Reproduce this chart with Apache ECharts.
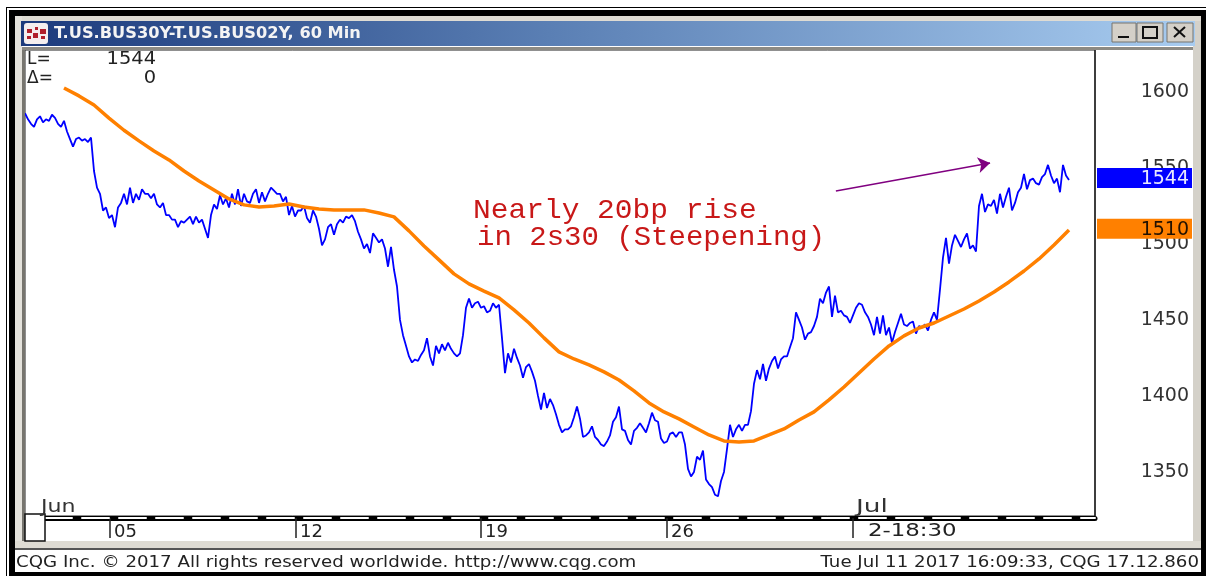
<!DOCTYPE html>
<html>
<head>
<meta charset="utf-8">
<title>T.US.BUS30Y-T.US.BUS02Y</title>
<script src="https://cdn.jsdelivr.net/npm/echarts@6/dist/echarts.min.js"></script>
<style>
  html, body { margin: 0; padding: 0; background: #fff; }
  #main { width: 1206px; height: 576px; }
</style>
</head>
<body>
<div id="main"></div>
<script>
// spread in bp, one reading per bar slot
var spread = [
  1586,1582,1579,1577,1582,1584,1580,1582,1581,1585,
  1583,1579,1577,1581,1574,1569,1564,1569,1570,1568,
  1569,1567,1570,1548,1537,1533,1522,1524,1517,1519,
  1511,1524,1527,1533,1526,1537,1527,1533,1529,1536,
  1533,1533,1530,1533,1526,1524,1527,1519,1519,1516,
  1516,1511,1515,1514,1516,1518,1513,1518,1514,1516,
  1510,1504,1519,1526,1523,1532,1526,1530,1524,1533,
  1526,1536,1525,1533,1528,1527,1533,1536,1527,1534,
  1528,1533,1537,1535,1533,1533,1528,1531,1519,1525,
  1518,1522,1522,1525,1517,1514,1522,1518,1510,1499,
  1503,1511,1513,1506,1513,1516,1514,1518,1517,1519,
  1515,1508,1503,1497,1500,1494,1507,1504,1501,1503,
  1497,1485,1498,1483,1472,1450,1440,1433,1426,1422,
  1424,1423,1427,1430,1438,1426,1420,1433,1428,1434,
  1430,1435,1431,1428,1426,1428,1440,1458,1464,1458,
  1461,1462,1458,1459,1455,1456,1461,1458,1460,1438,
  1415,1428,1422,1431,1425,1420,1412,1419,1421,1416,
  1410,1400,1391,1402,1392,1398,1394,1388,1381,1376,
  1378,1378,1380,1386,1393,1385,1373,1374,1376,1380,
  1373,1371,1368,1367,1370,1374,1383,1386,1393,1378,
  1377,1371,1368,1377,1379,1382,1379,1376,1382,1389,
  1384,1383,1372,1369,1370,1375,1376,1373,1376,1376,
  1368,1352,1347,1350,1360,1358,1364,1345,1342,1340,
  1335,1334,1344,1350,1365,1381,1373,1378,1381,1377,
  1381,1381,1390,1408,1417,1411,1421,1410,1418,1423,
  1426,1418,1424,1426,1426,1432,1438,1455,1450,1445,
  1437,1441,1442,1446,1452,1464,1461,1468,1472,1452,
  1466,1455,1456,1453,1452,1448,1453,1458,1461,1460,
  1455,1452,1447,1440,1452,1441,1453,1440,1445,1435,
  1442,1448,1454,1447,1446,1448,1449,1441,1446,1445,
  1447,1443,1450,1455,1450,1470,1491,1504,1487,1499,
  1506,1502,1498,1503,1507,1497,1499,1495,1525,1533,
  1521,1526,1525,1529,1520,1533,1524,1531,1537,1522,
  1527,1534,1537,1546,1536,1542,1543,1540,1539,1544,
  1546,1552,1545,1540,1543,1534,1552,1545,1542
];
// moving average, read every 5th slot from slot 13
var maStart = 13;
var maStep = 5;
var movingAvg = [
  1602.6,1597.4,1591.4,1582.8,1574.8,1567.8,1561.2,1555.3,1548,1541.4,
  1535.5,1529.6,1525.7,1524.3,1525,1526.3,1524.3,1523,1522.4,1522.4,
  1522.4,1520.4,1517.8,1508.6,1498.7,1489.5,1480.3,1473.7,1469,1464.5,
  1456.6,1448,1438.2,1429,1424.3,1420.4,1415.8,1410.5,1403.3,1395.4,
  1389.5,1384.9,1379.6,1374.3,1370.4,1369.7,1370.4,1374.3,1378.3,1384.2,
  1389.5,1397.4,1405.9,1415.1,1424.3,1432.9,1439.5,1444.7,1448,1452.6,
  1457.2,1462.5,1468.4,1475,1482.2,1490.1,1499.3,1509.2
];
var priceTicks = [1350, 1400, 1450, 1500, 1550, 1600];
var dateTickSlots = [28.33, 90.33, 152, 214, 276];
var dateTickLabels = ['05', '12', '19', '26', '2-18:30'];
var lastSpread = 1544;
var lastAvg = 1510;
var arrowFrom = [270.3, 1534.9];
var arrowTo = [321.7, 1553.3];

var chart = echarts.init(document.getElementById('main'));
var sans = 'DejaVu Sans';

function rect(x, y, w, h, fill, stroke) {
  var el = { type: 'rect', z: 10, shape: { x: x, y: y, width: w, height: h }, style: { fill: fill }, silent: true };
  if (stroke) { el.style.stroke = stroke; el.style.lineWidth = 1; }
  return el;
}
function label(x, y, text, font, fill, align, scaleX) {
  return {
    type: 'text', x: x, y: y + 1.5, scaleX: scaleX || 1, silent: true, z: 20,
    style: { text: text, font: font, fill: fill, align: align || 'left', verticalAlign: 'middle' }
  };
}

var option = {
  animation: false,
  backgroundColor: '#fff',
  grid: { left: 25, right: 111, top: 50, bottom: 60, show: true, borderColor: '#222', borderWidth: 1, backgroundColor: '#fff' },
  xAxis: [{
    type: 'value', min: 0, max: 356.67, position: 'bottom', offset: 2, z: 2,
    splitLine: { show: false },
    axisLine: { show: true, onZero: false, lineStyle: { color: '#000', width: 5 } },
    axisTick: { show: true, customValues: dateTickSlots, length: 20, lineStyle: { color: '#222', width: 1.5 } },
    axisLabel: {
      show: true, customValues: dateTickSlots, margin: 5, align: 'left',
      padding: [0, 0, 0, 4], color: '#222', fontFamily: sans, fontSize: 18,
      // the long label is stretched separately below
      formatter: function (v) { var i = dateTickSlots.indexOf(v); return i < 4 ? dateTickLabels[i] : ''; }
    }
  }, {
    type: 'value', min: 0, max: 356.67, position: 'bottom', offset: 2, z: 3,
    splitLine: { show: false }, axisTick: { show: false }, axisLabel: { show: false },
    axisLine: { show: true, onZero: false, lineStyle: { color: '#fff', width: 2, type: [27, 10], dashOffset: 17 } }
  }],
  yAxis: {
    type: 'value', min: 1321, max: 1627.6, position: 'right', scale: true,
    splitLine: { show: false },
    axisLine: { show: true, onZero: false, lineStyle: { color: '#222', width: 1.5 } },
    axisTick: { show: false },
    axisLabel: {
      show: true, customValues: priceTicks, margin: 94, align: 'right',
      padding: [5, 0, 0, 0], color: '#333', fontFamily: sans, fontSize: 19,
      formatter: function (v) { return String(v); }
    }
  },
  series: [{
    name: 'spread', type: 'line', showSymbol: false, symbol: 'none', z: 3,
    lineStyle: { color: '#0000ff', width: 1.8 },
    data: spread.map(function (v, i) { return [i, v]; }),
    markLine: {
      silent: true, animation: false, symbol: ['none', 'arrow'], symbolSize: 12,
      label: { show: false },
      lineStyle: { color: '#800080', width: 1.5, type: 'solid' },
      data: [[{ coord: arrowFrom }, { coord: arrowTo }]]
    }
  }, {
    name: 'average', type: 'line', showSymbol: false, symbol: 'none', z: 4,
    lineStyle: { color: '#ff8000', width: 3.5 },
    data: movingAvg.map(function (v, i) { return [maStart + i * maStep, v]; })
  }]
};
chart.setOption(option);

// window furniture around the plot
var gfx = [
  rect(6, 7, 1200, 1, '#000'),
  rect(6, 7, 1, 569, '#000'),
  rect(9, 10, 1197, 6, '#000'),
  rect(9, 10, 6, 566, '#000'),
  rect(1201, 10, 5, 566, '#000'),
  rect(9, 572, 1197, 4, '#000'),
  rect(15, 16, 1186, 5, '#dedbd3'),
  rect(15, 16, 7, 533, '#e4e2dc'),
  rect(22, 47, 1171, 3, '#8c8a84'),
  rect(22, 50, 3, 491, '#77756f'),
  rect(1193, 21, 8, 528, '#d4d1c9'),
  rect(15, 541, 1186, 7, '#dedbd3'),
  rect(15, 548, 1186, 2, '#555'),
  {
    type: 'rect', z: 10, shape: { x: 21, y: 21, width: 1174, height: 25 }, silent: true,
    style: { fill: new echarts.graphic.LinearGradient(0, 0, 1, 0, [
      { offset: 0, color: '#1c3a7c' }, { offset: 0.45, color: '#5a7fb4' }, { offset: 1, color: '#a8ccf0' }
    ]) }
  },
  // title bar icon
  { type: 'rect', shape: { x: 24, y: 23, width: 24, height: 21, r: 3 }, style: { fill: '#f4eeee' }, silent: true, z: 10 },
  rect(27, 29, 5, 4, '#b0202c'), rect(33, 33, 5, 5, '#b0202c'), rect(40, 29, 6, 5, '#b0202c'),
  rect(35, 27, 3, 3, '#b0202c'), rect(27, 36, 4, 3, '#b0202c'), rect(41, 36, 4, 3, '#b0202c'),
  label(54, 33, 'T.US.BUS30Y-T.US.BUS02Y, 60 Min', 'bold 15px ' + sans, '#f4f4f4', 'left', 1.08),
  // window buttons
  rect(1112, 23, 24, 19, '#d4d0c8', '#77756f'),
  rect(1137, 23, 26, 19, '#d4d0c8', '#77756f'),
  rect(1167, 23, 26, 19, '#d4d0c8', '#77756f'),
  rect(1118, 36, 11, 2, '#111'),
  { type: 'rect', shape: { x: 1143, y: 27, width: 14, height: 11 }, style: { fill: 'none', stroke: '#111', lineWidth: 2 }, silent: true, z: 10 },
  { type: 'line', shape: { x1: 1174, y1: 27, x2: 1185, y2: 37 }, style: { stroke: '#111', lineWidth: 2 }, silent: true, z: 10 },
  { type: 'line', shape: { x1: 1185, y1: 27, x2: 1174, y2: 37 }, style: { stroke: '#111', lineWidth: 2 }, silent: true, z: 10 },
  // readout
  label(27, 58, 'L=', '17px ' + sans, '#222'),
  label(156, 58, '1544', '18px ' + sans, '#222', 'right', 1.08),
  label(27, 77, '\u0394=', '17px ' + sans, '#222'),
  label(156, 77, '0', '18px ' + sans, '#222', 'right', 1.08),
  // months above the date strip
  label(41, 506, 'Jun', '17px ' + sans, '#333', 'left', 1.3),
  label(856, 506, 'Jul', '17px ' + sans, '#333', 'left', 1.55),
  { type: 'rect', shape: { x: 25, y: 514, width: 20, height: 27 }, style: { fill: '#fff', stroke: '#111', lineWidth: 1.5 }, silent: true, z: 10 },
  // note
  { type: 'text', x: 473, y: 211, scaleX: 1.055, silent: true, z: 20,
    style: { text: 'Nearly 20bp rise', font: '28px "Liberation Mono"', fill: '#c81818', verticalAlign: 'middle' } },
  { type: 'text', x: 477, y: 238, scaleX: 1.036, silent: true, z: 20,
    style: { text: 'in 2s30 (Steepening)', font: '28px "Liberation Mono"', fill: '#c81818', verticalAlign: 'middle' } },
  // status bar
  label(16, 561, 'CQG Inc. \u00a9 2017 All rights reserved worldwide. http://www.cqg.com', '16.5px ' + sans, '#222', 'left', 1.103),
  label(1199, 561, 'Tue Jul 11 2017 16:09:33, CQG 17.12.860', '16.5px ' + sans, '#222', 'right', 1.103)
];

// long date label, placed from the axis scale
var longX = chart.convertToPixel({ xAxisIndex: 0 }, dateTickSlots[4]);
gfx.push(label(longX + 15, 530, dateTickLabels[4], '18px ' + sans, '#222', 'left', 1.27));

// last value flags in the price column
var spreadY = chart.convertToPixel({ yAxisIndex: 0 }, lastSpread);
var avgY = chart.convertToPixel({ yAxisIndex: 0 }, lastAvg);
gfx.push(
  { type: 'rect', shape: { x: 1097, y: spreadY - 9, width: 95, height: 20 }, style: { fill: '#0000ff' }, silent: true, z: 15 },
  label(1189, spreadY, String(lastSpread), '19px ' + sans, '#e8e8ff', 'right'),
  { type: 'rect', shape: { x: 1097, y: avgY - 10, width: 95, height: 20 }, style: { fill: '#ff8000' }, silent: true, z: 15 },
  label(1189, avgY, String(lastAvg), '19px ' + sans, '#221100', 'right')
);
chart.setOption({ graphic: { elements: gfx } });
</script>
</body>
</html>
